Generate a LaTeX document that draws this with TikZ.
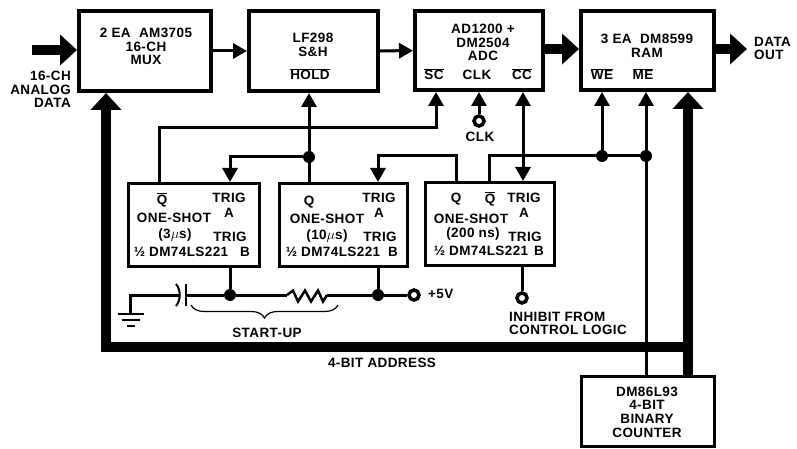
\documentclass[tikz,border=0pt]{standalone}
\usepackage{fontspec}
\setmainfont[LetterSpace=3]{Liberation Sans}
\usetikzlibrary{arrows.meta, decorations.pathreplacing}
\tikzset{
	lbl/.style={inner sep=0pt, align=center, font=\fontsize{13.5}{13.6}\selectfont\bfseries},
	bigbox/.style={draw, line width=4pt, inner sep=0pt},
	shotbox/.style={draw, line width=3pt, inner sep=0pt},
	wire/.style={line width=3pt},
	wirearrow/.style={wire, -{Triangle[length=14pt,width=15pt]}},
	wiretwo/.style={wire, {Triangle[length=14pt,width=15pt]}-{Triangle[length=14pt,width=15pt]}},
	busarrow/.style={line width=10pt, -{Triangle[length=17pt,width=30pt]}},
	dot/.style={circle, fill, inner sep=0pt, minimum size=12pt},
	term/.style={circle, draw, fill=white, line width=3.5pt, inner sep=0pt, minimum size=10pt}
}
\newcommand{\notsig}[1]{$\overline{\mbox{#1}}$}
\begin{document}
\begin{tikzpicture}[x=1pt, y=-1pt]
	\useasboundingbox (0,0) rectangle (797,449);
	% main blocks
	\node[bigbox, minimum width=132pt, minimum height=80pt] (mux) at (145,51) {};
	\node[bigbox, minimum width=129pt, minimum height=80pt] (sh) at (313.5,51) {};
	\node[bigbox, minimum width=128pt, minimum height=79pt] (adc) at (479,50.5) {};
	\node[bigbox, minimum width=133pt, minimum height=79pt] (ram) at (647.5,50.5) {};
	\node[shotbox, minimum width=131pt, minimum height=83pt] (osa) at (194,225) {};
	\node[shotbox, minimum width=128pt, minimum height=83pt] (osb) at (343.5,225) {};
	\node[shotbox, minimum width=129pt, minimum height=83pt] (osc) at (490,224) {};
	\node[shotbox, minimum width=133pt, minimum height=70pt] (cnt) at (648,411.5) {};
	% block texts
	\node[lbl] (muxtxt) at (146,46.5) {2 EA\ \ AM3705\\16-CH\\MUX};
	\node[lbl] (shtxt) at (313,45) {LF298\\S\&H};
	\node[lbl] (holdtxt) at (310,74) {\notsig{HOLD}};
	\node[lbl] (adctxt) at (483,42.5) {AD1200 +\\DM2504\\ADC};
	\node[lbl] (sctxt) at (434,74) {\notsig{SC}};
	\node[lbl] (clktxt) at (477,75) {CLK};
	\node[lbl] (cctxt) at (522,74) {\notsig{CC}};
	\node[lbl] (ramtxt) at (647,45.5) {3 EA\ \ DM8599\\RAM};
	\node[lbl] (wetxt) at (602,74) {\notsig{WE}};
	\node[lbl] (metxt) at (643,74) {\notsig{ME}};
	\node[lbl] (cnttxt) at (647,412) {DM86L93\\4-BIT\\BINARY\\COUNTER};
	\node[lbl, align=right, anchor=east] (intxt) at (71,89.5) {16-CH\\ANALOG\\DATA};
	\node[lbl, align=left, anchor=west] (outtxt) at (754,48.5) {DATA\\OUT};
	% one-shot texts
	\foreach \n/\qx/\qy/\tx/\ty/\sx/\sy/\px/\py/\dx/\dy/\bx/\per/\sig in {
		a/162/200/229/198/174/218/175/235/181/252/245/{(3$\mu$s)}/{\notsig{Q}},
		b/309/202/379/198/327/219/327/236/333/252/393/{(10$\mu$s)}/Q,
		c/456/199/524/198/471/219/473/234/481/251/539/{(200 ns)}/Q}{
		\node[lbl] (q\n) at (\qx,\qy) {\sig};
		\node[lbl] (tra\n) at (\tx,\ty+7) {TRIG\\[1pt]A};
		\node[lbl] (name\n) at (\sx,\sy) {ONE-SHOT};
		\node[lbl] (per\n) at (\px,\py) {\per};
		\node[lbl] (trb\n) at (\tx+1,\ty+39) {TRIG};
		\node[lbl] (chip\n) at (\dx,\dy) {½ DM74LS221};
		\node[lbl] (b\n) at (\bx,\dy) {B};
	}
	\node[lbl] (qnc) at (490,199) {\notsig{Q}};
	% other texts
	\node[lbl] (clkin) at (480,137) {CLK};
	\node[lbl, anchor=west] (vcctxt) at (428,294) {+5V};
	\node[lbl] (starttxt) at (267,333) {START-UP};
	\node[lbl] (addrtxt) at (382,363) {4-BIT ADDRESS};
	\node[lbl, align=left, anchor=west] (inhtxt) at (509,323.5) {INHIBIT FROM\\CONTROL LOGIC};
	% data path
	\coordinate (datain) at (32,50);
	\coordinate (dataout) at (747,49);
	\draw[busarrow] (datain) -- (datain -| mux.west);
	\draw[busarrow] (adc.east |- dataout) -- (ram.west |- dataout);
	\draw[busarrow] (ram.east |- dataout) -- (dataout);
	\foreach \a/\b in {mux/sh, sh/adc}
	\draw[wirearrow] (\a) -- (\b);
	% address bus
	\coordinate (busr) at (688,347);
	\coordinate (busl) at (106,347);
	\draw[busarrow] (busr |- cnt.north) -- (busr |- ram.south);
	\draw[busarrow] (busr) -- (busl) -- (busl |- mux.south);
	% control wires
	\coordinate (qa) at (159,128);
	\coordinate (scin) at (436,128);
	\coordinate (qb) at (456,156);
	\coordinate (trb) at (378,156);
	\coordinate (qc) at (489,156);
	\coordinate (tra) at (230,157);
	\coordinate (ccin) at (523,156);
	\node[dot] (holddot) at (309,157) {};
	\node[dot] (wedot) at (602,156) {};
	\node[dot] (medot) at (646,156) {};
	\node[term] (clkterm) at (479,121) {};
	\draw[wirearrow] (qa |- osa.north) -- (qa) -- (scin) -- (scin |- adc.south);
	\draw[wirearrow] (holddot |- osb.north) -- (holddot |- sh.south);
	\draw[wirearrow] (holddot) -- (tra) -- (tra |- osa.north);
	\draw[wirearrow] (qb |- osc.north) -- (qb) -- (trb) -- (trb |- osb.north);
	\draw[wiretwo] (ccin |- adc.south) -- (ccin |- osc.north);
	\draw[wire] (qc |- osc.north) -- (qc) -- (medot);
	\draw[wirearrow] (wedot) -- (wedot |- ram.south);
	\draw[wirearrow] (medot |- cnt.north) -- (medot |- ram.south);
	\draw[wirearrow] (clkterm) -- (clkterm |- adc.south);
	% start-up network
	\node[dot] (rcdot) at (230,295) {};
	\node[dot] (vdot) at (378,295) {};
	\node[term] (vterm) at (414,295) {};
	\node[term] (inhterm) at (522,298) {};
	\coordinate (gnd) at (130,314);
	\coordinate (capa) at (179,295);
	\coordinate (capb) at (186,295);
	\coordinate (resa) at (287,295);
	\coordinate (resb) at (327,295);
	\draw[wire] (rcdot |- osa.south) -- (rcdot);
	\draw[wire] (vdot |- osb.south) -- (vdot);
	\draw[wire] (inhterm |- osc.south) -- (inhterm);
	\draw[wire] (gnd) |- (capa);
	\draw[wire] (capb) -- (rcdot) -- (resa);
	\draw[line width=2.5pt] (resa) -- (293,290.5) -- (298,301.5) -- (305,290.5) -- (311,301.5) -- (318,290.5) -- (323,301.5) -- (resb);
	\draw[wire] (resb) -- (vdot) -- (vterm);
	\draw[line width=2.5pt] (186,284) -- (186,306);
	\draw[line width=2pt] (176,284) .. controls (181,290) and (181,300) .. (176,306);
	\draw[line width=2.5pt] (118,314) -- (144,314);
	\draw[line width=2.5pt] (122,320) -- (140,320);
	\draw[line width=2.5pt] (127,326) -- (135,326);
	\draw[line width=1.2pt, decorate, decoration={brace, mirror, amplitude=13pt}] (191,305) -- (338,305);
\end{tikzpicture}
\end{document}
